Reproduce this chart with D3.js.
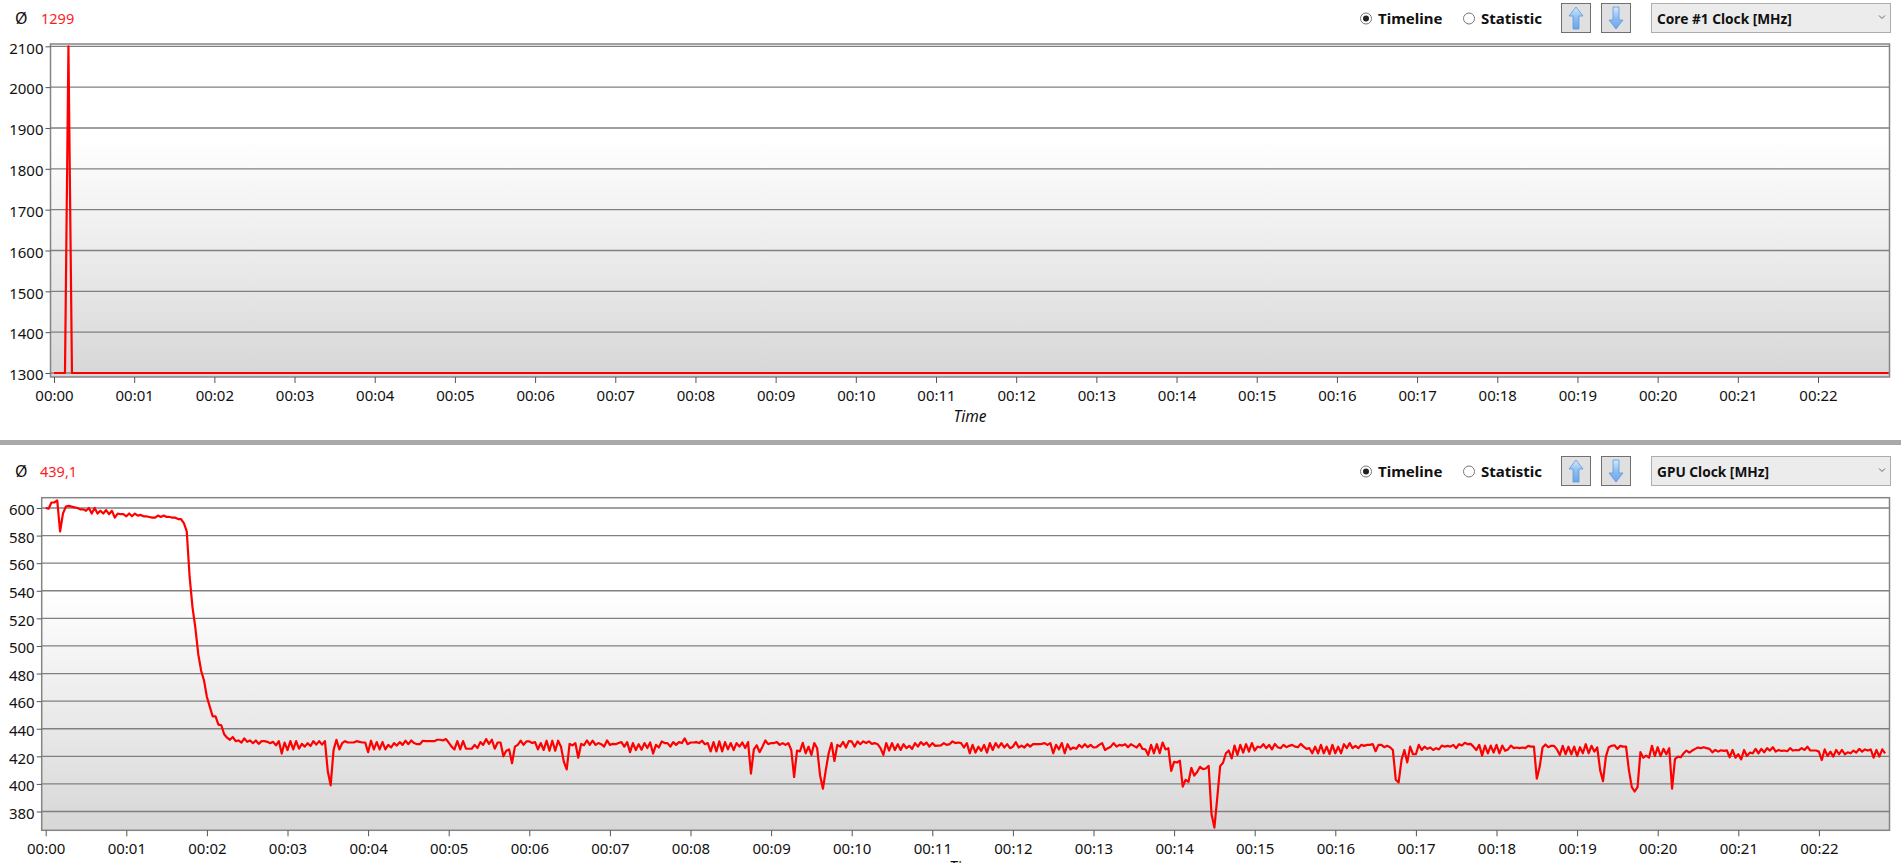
<!DOCTYPE html>
<html><head><meta charset="utf-8">
<script src="https://cdn.jsdelivr.net/npm/d3@7"></script>
<style>
html,body{margin:0;padding:0;background:#fff;overflow:hidden}
svg{display:block}
text{font-family:"Noto Sans",sans-serif;fill:#111}
</style></head><body><div id="chart"></div>
<script>
// ---- data ----
const minuteLabels = d3.range(0,23).map(m => "00:" + String(m).padStart(2,"0"));
const coreTicks = [1300,1400,1500,1600,1700,1800,1900,2000,2100];
const gpuTicks = [380,400,420,440,460,480,500,520,540,560,580,600];
const coreTimes = [0,0.137,0.18,0.224,22.88];
const coreValues = [1300,1300,2100,1300,1300];
const samplesPerMinute = 28;
const gpu00 = [600,599.5,604,604,605.5,583,596,601,601.5,601,600.5,600,599,599,598,600,596,600,596,598,596,598.5,595.5,598,593,596,595.5,595.5];
const gpu01 = [594,596,594,596,594.5,595,594,594,593.5,593,593,594.5,593.5,594.5,593.5,593.5,593,593,592,592,589,583,550,528,513,494,482,475];
const gpu02 = [463,456,449,449,443,442.5,436,433.5,432,434,431,431.5,430,433,430.5,431.5,429.5,431.5,429,431,431,430.5,429.5,430.5,428,431,422,430];
const gpu03 = [424.5,431,425,431,425.5,429,427,429.5,427.5,431,428.5,431,428.5,431,409,399,424.5,432,425,429.5,431,430,430,430,431,430.5,430,430];
const gpu04 = [423,431.3,425,430.3,425,430.3,425,428.3,426.4,429.6,427.8,430.3,428.3,431.3,428.8,431.5,429.6,428.8,428.8,431.3,431,431,431,431,432,432,431.5,432.5];
const gpu05 = [430,427,425,431,425,431,425.5,425.5,425.5,428.3,426,430.3,428.3,432.5,429,432,425.5,430,430,420,424,425,415,427,428.3,431.3,428.3,430.8];
const gpu06 = [430.8,429.6,430.3,425,429.6,424.6,431.3,424,431.3,424,431.3,427,416,410.5,429,428,429.6,419,429,428,431.5,428.3,431.3,428.3,429.6,428.8,427,431.5];
const gpu07 = [428.3,429,428.8,429.6,430.3,427,430.3,423,429.6,424.5,428.8,424.8,429.6,426,430,422,428.3,426.4,430.8,429.6,429.6,427,430.3,428.3,430.3,429.6,433,428.8];
const gpu08 = [430,430,430.3,429.6,431.3,428.8,429.6,423.5,430.3,423.5,430.8,423.5,430.3,425,429.6,424.5,429.6,427,430,426,430.3,407.5,425,428,423,427,431.5,428.8];
const gpu09 = [429.6,429.6,430.3,428.3,429.6,428.3,429.6,424.6,405,424.2,423.5,429.8,422.2,427,421,429.6,425.8,406.3,396.5,410,422.2,429.6,416.6,428.3,427,430.5,426.4,431];
const gpu10 = [430.8,427,430.8,428.8,430.8,429.6,430.8,429,429.6,428.8,425.9,421,429.6,424.2,429.6,424.6,428.8,424.6,428.8,425.9,427.6,425.4,429.6,427,430.3,428.3,430,427];
const gpu11 = [429.6,427.6,427.8,428,429.6,428.3,428.8,430.8,429.6,430,429.6,426.4,429.6,422.2,428.3,422.7,427,424,428.3,422.7,429.6,424.6,429.6,426.4,429.6,426.4,428.8,425.9];
const gpu12 = [427,430.3,426.4,427.8,426.4,428.8,427,428.8,428.8,428.8,429,429.6,428.3,429.6,422.2,428.3,425,429.6,422.2,428.8,425,426.4,425.4,428.3,426.4,428.8,426.6,428.3];
const gpu13 = [426.4,426.6,428.3,429.6,424.6,425.9,427,429.6,427,428.3,427.8,428.8,426.6,428.8,427.6,426.4,429,425.4,425.1,421,428.3,422.2,428.8,422.2,430,425,425.9,409.5];
const gpu14 = [416,415.5,416.8,398,403,401.5,411.7,406,408.6,412.4,410.7,411.2,413.1,378,368.3,390,412.9,415.3,422.2,424.2,418.5,427.8,421,428.3,422.7,428.8,423.4,429.6];
const gpu15 = [424.2,427,426.4,428.8,425.9,428.3,425,429,426.6,425.9,428.3,426.6,427.6,428.3,427,426.6,429,427,425.4,425.9,422.2,427,422.2,428.3,422.2,427,421.6,428.3];
const gpu16 = [422.2,427,422.2,428.8,425.9,429.6,425.9,427.6,425.9,428.3,427.6,428.3,428.3,428.8,423.7,428.3,428.3,426.6,427.6,426.6,424.6,403,401.1,417.3,424.6,415.6,427,421.5];
const gpu17 = [421.5,428.3,424.6,427,425.4,426.4,424.6,425.9,425,427.8,427,427.6,427,428.3,425.9,428.8,427.8,429.8,428.8,429,427,424.6,428.3,420.5,427.8,422.2,427.8,422.7];
const gpu18 = [428.3,422.2,427.8,424,425,427.8,425.9,426.4,425.9,426.4,425.9,427.6,427,427,403.8,412.4,426.4,428.6,426.6,427.6,427.6,425,421,427.6,421.5,427,421.5,427];
const gpu19 = [420.2,426.6,422.2,428.8,422.2,427.6,423.4,426.4,410,402,419.8,426.6,427.6,428,425.4,427.6,427,427,410,397.7,394.5,397.7,423,419,420.5,419,427.6,420.2];
const gpu20 = [426.6,420.2,425.4,421.5,425.9,396.5,418,419.8,419.3,422.2,424.2,422.7,424.2,425.4,426.4,425.9,426.6,425.9,425.4,422.9,424.6,423.4,424.4,423.9,424.4,419.3,424.6,419];
const gpu21 = [421.5,417.8,424.6,420.2,422.7,422.2,425.4,422.2,425.4,422.9,425.9,424.2,426.6,423.4,424.6,423.9,424.2,423.7,425.9,424.2,424.6,424.4,425.9,424.6,427,424.2,424.2,424.2];
const gpu22 = [423.4,417.3,425,420.2,423.4,419.8,424.6,421.5,424.6,421.5,422.9,422.2,424.2,422.7,425.4,423.4,425,424.2,425,419,424.6,419.8,425.1,422.2];
const gpuValues = [].concat(gpu00,gpu01,gpu02,gpu03,gpu04,gpu05,gpu06,gpu07,gpu08,gpu09,gpu10,gpu11,gpu12,gpu13,gpu14,gpu15,gpu16,gpu17,gpu18,gpu19,gpu20,gpu21,gpu22);
const gpuTimes = gpuValues.map((_,i) => i / samplesPerMinute);

// ---- drawing ----
const W = 1901, H = 863;
const svg = d3.select("#chart").append("svg").attr("width",W).attr("height",H).attr("viewBox",`0 0 ${W} ${H}`);
const defs = svg.append("defs");
const g = defs.append("linearGradient").attr("id","plotBg").attr("x1",0).attr("y1",0).attr("x2",0).attr("y2",1);
[[0,"#ffffff"],[0.28,"#ffffff"],[1,"#d7d7d7"]].forEach(s=>g.append("stop").attr("offset",s[0]).attr("stop-color",s[1]));
const b = defs.append("linearGradient").attr("id","arrowBlue").attr("x1",0).attr("y1",0).attr("x2",0).attr("y2",1);
[[0,"#d5e8fc"],[0.5,"#8fbdf1"],[1,"#6aa5ea"]].forEach(s=>b.append("stop").attr("offset",s[0]).attr("stop-color",s[1]));

svg.append("rect").attr("x",0).attr("y",440).attr("width",W).attr("height",5).attr("fill","#a9a9a9");

function panel(o){
  const x = d3.scaleLinear().domain([0,22]).range([o.x0,o.x22]);
  const y = d3.scaleLinear().domain(o.yDomain).range(o.yRange);
  const root = svg.append("g");
  // header
  root.append("text").attr("x",15).attr("y",o.headY+5.5).attr("font-size",16).text("Ø");
  root.append("text").attr("x",o.avgX).attr("y",o.headY+5.5).attr("font-size",14.5).style("fill","#ff1a1a").text(o.avg);
  // radios
  [[1366,true],[1469,false]].forEach(([cx,on])=>{
    root.append("circle").attr("cx",cx).attr("cy",o.headY).attr("r",5.5).attr("fill","#fff").attr("stroke","#777").attr("stroke-width",1);
    if(on) root.append("circle").attr("cx",cx).attr("cy",o.headY).attr("r",3).attr("fill","#222");
  });
  root.append("text").attr("x",1378).attr("y",o.headY+5.5).attr("font-size",15).attr("font-weight",700).text("Timeline");
  root.append("text").attr("x",1481).attr("y",o.headY+5.5).attr("font-size",15).attr("font-weight",700).text("Statistic");
  // arrow buttons
  [[1561,true],[1601,false]].forEach(([bx,up])=>{
    const top = o.headY-15.5;
    root.append("rect").attr("x",bx+.5).attr("y",top+.5).attr("width",29).attr("height",29).attr("fill","#e0e0e0").attr("stroke","#707070");
    const pts = up ? [[15,4],[22,13],[18,13],[18,26],[12,26],[12,13],[8,13]] : [[15,26],[22,17],[18,17],[18,4],[12,4],[12,17],[8,17]];
    root.append("path").attr("transform",`translate(${bx},${top})`).attr("d",d3.line()(pts)+"Z").attr("fill","url(#arrowBlue)").attr("stroke","#5b9be0").attr("stroke-width",.8);
  });
  // dropdown
  root.append("rect").attr("x",1651.5).attr("y",o.headY-15).attr("width",239).attr("height",29).attr("fill","#ececec").attr("stroke","#adadad");
  root.append("text").attr("x",1657).attr("y",o.headY+5).attr("font-size",13.7).attr("font-weight",700).text(o.select);
  root.append("path").attr("d",`M${1879},${o.headY-3}l3,3l3,-3`).attr("fill","none").attr("stroke","#666").attr("stroke-width",1);
  // plot frame
  root.append("rect").attr("x",o.left).attr("y",o.top).attr("width",o.right-o.left).attr("height",o.bottom-o.top).attr("fill","url(#plotBg)").attr("stroke","#858585").attr("stroke-width",1.5);
  // y axis with gridlines
  const ya = root.append("g").attr("transform",`translate(${o.left},0)`)
    .call(d3.axisLeft(y).tickValues(o.yTicks).tickSize(5).tickPadding(2).tickFormat(d3.format("d")));
  ya.select(".domain").remove();
  ya.selectAll("line").attr("stroke","#555");
  ya.selectAll("text").attr("font-size",15).attr("font-family",null).attr("dy","0.45em").style("fill","#111");
  root.append("g").selectAll("line").data(o.yTicks).join("line")
    .attr("x1",o.left).attr("x2",o.right).attr("y1",d=>y(d)).attr("y2",d=>y(d)).attr("stroke","#808080").attr("stroke-width",1.3);
  // x axis
  const xa = root.append("g").attr("transform",`translate(0,${o.bottom})`)
    .call(d3.axisBottom(x).tickValues(d3.range(0,23)).tickSize(6).tickPadding(7).tickFormat(d=>minuteLabels[d]));
  xa.select(".domain").remove();
  xa.selectAll("line").attr("stroke","#555");
  xa.selectAll("text").attr("font-size",15).attr("font-family",null).style("fill","#111");
  root.append("text").attr("x",(o.left+o.right)/2).attr("y",o.bottom+o.timeOffset).attr("text-anchor","middle").attr("font-size",15.5).attr("font-style","italic").text("Time");
  // line
  const line = d3.line().x((d,i)=>x(o.times[i])).y(d=>y(d));
  root.append("path").datum(o.values).attr("d",line).attr("fill","none").attr("stroke","#ff0000").attr("stroke-width",2.2).attr("stroke-linejoin","round");
}

panel({headY:18.5,avg:"1299",avgX:41,select:"Core #1 Clock [MHz]",timeOffset:45.4,
  left:50.5,right:1889.5,top:44,bottom:377,x0:54,x22:1818,
  yDomain:[1300,2100],yRange:[373,46.3],yTicks:coreTicks,times:coreTimes,values:coreValues});
panel({headY:471.5,avg:"439,1",avgX:40,select:"GPU Clock [MHz]",timeOffset:43,
  left:41.7,right:1889.5,top:497.7,bottom:830.3,x0:45.7,x22:1818.9,
  yDomain:[380,600],yRange:[811.5,508],yTicks:gpuTicks,times:gpuTimes,values:gpuValues});
</script></body></html>
